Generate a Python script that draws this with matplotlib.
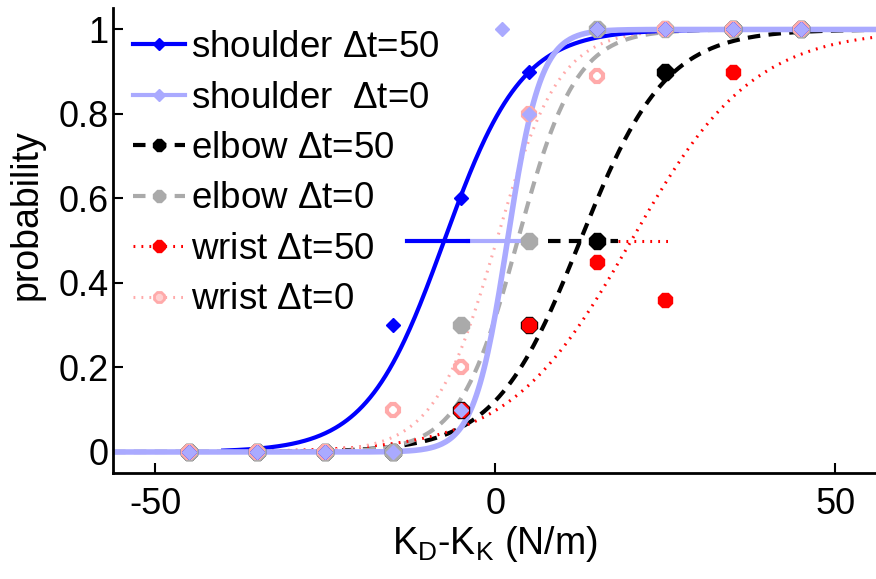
import numpy as np
import matplotlib
matplotlib.use("Agg")
import matplotlib.pyplot as plt

plt.rcParams['font.family'] = ['Liberation Sans', 'DejaVu Sans']
plt.rcParams['mathtext.fontset'] = 'custom'
plt.rcParams['mathtext.rm'] = 'Liberation Sans'
plt.rcParams['mathtext.it'] = 'Liberation Sans'

# ---- data ----
x_bins = [-45, -35, -25, -15, -5, 5, 15, 25, 35, 45]
x_shoulder0 = [-45, -35, -25, -15, -5, 1, 5, 15, 25, 35, 45]

p_shoulder50 = [0, 0, 0, 0.3, 0.6, 0.9, 1.0, 1.0, 1.0, 1.0]
p_shoulder0 = [0, 0, 0, 0, 0.1, 1.0, 0.8, 1.0, 1.0, 1.0, 1.0]
p_elbow50 = [0, 0, 0, 0, 0.1, 0.3, 0.5, 0.9, 1.0, 1.0]
p_elbow0 = [0, 0, 0, 0, 0.3, 0.5, 1.0, 1.0, 1.0, 1.0]
p_wrist50 = [0, 0, 0, 0, 0.1, 0.3, 0.45, 0.36, 0.9, 1.0]
p_wrist0 = [0, 0, 0, 0.1, 0.2, 0.8, 0.89, 1.0, 1.0, 1.0]

# logistic fit parameters (threshold, slope scale) per series
fit_mu = {'shoulder50': -7.5, 'shoulder0': 1.8, 'elbow50': 12.5,
          'elbow0': 3.3, 'wrist50': 20.0, 'wrist0': 0.2}
fit_s = {'shoulder50': 5.7, 'shoulder0': 2.45, 'elbow50': 6.3,
         'elbow0': 4.3, 'wrist50': 9.0, 'wrist0': 4.6}
fit_range = {'shoulder50': (-40, 35)}

# threshold intervals drawn at p = 0.5
ci_shoulder50 = (-13.0, -4.0)
ci_shoulder0 = (-4.0, 3.6)
ci_elbow50 = (7.8, 18.0)
ci_wrist50 = (18.0, 26.1)

labels = ['shoulder $\\Delta$t=50', 'shoulder  $\\Delta$t=0', 'elbow $\\Delta$t=50',
          'elbow $\\Delta$t=0', 'wrist $\\Delta$t=50', 'wrist $\\Delta$t=0']

BLUE = '#0000ff'
LBLUE = '#aaaaff'
BLACK = '#000000'
GRAY = '#aaaaaa'
RED = '#ff0000'
PINK = '#ffaaaa'

fig = plt.figure(figsize=(8.76, 5.79), dpi=100)
ax = fig.add_axes([0.129, 0.1836, 0.871, 0.802])
xlim = (-56.2, 56.0)

def curve(key):
    lo, hi = fit_range.get(key, xlim)
    xs = np.linspace(lo, hi, 400)
    return xs, 1.0 / (1.0 + np.exp(-(xs - fit_mu[key]) / fit_s[key]))

dash = (0, (3, 2))
dot = (0, (0.6, 2.0))

# curves
xs, ys = curve('elbow50'); ax.plot(xs, ys, color=BLACK, lw=3, ls=dash, zorder=2)
xs, ys = curve('elbow0'); ax.plot(xs, ys, color=GRAY, lw=3, ls=dash, zorder=2)
xs, ys = curve('wrist50'); ax.plot(xs, ys, color=RED, lw=2.2, ls=dot, zorder=2)
xs, ys = curve('wrist0'); ax.plot(xs, ys, color=PINK, lw=2.2, ls=dot, zorder=2)
xs, ys = curve('shoulder50'); ax.plot(xs, ys, color=BLUE, lw=3, zorder=2.2)
xs, ys = curve('shoulder0'); ax.plot(xs, ys, color=LBLUE, lw=4, zorder=2.3)

# threshold intervals
ax.plot(ci_shoulder0, [0.5, 0.5], color=LBLUE, lw=3, zorder=2.4)
ax.plot(ci_shoulder50, [0.5, 0.5], color=BLUE, lw=3, zorder=2.5)
ax.plot(ci_elbow50, [0.5, 0.5], color=BLACK, lw=3, ls=dash, zorder=2.4)
ax.plot(ci_wrist50, [0.5, 0.5], color=RED, lw=2.2, ls=dot, zorder=2.4)

# markers
ax.plot(x_bins, p_elbow50, ls='none', marker='8', ms=13, color=BLACK, zorder=3.0)
ax.plot(x_bins, p_wrist50, ls='none', marker='8', ms=11.5, color=RED, zorder=3.1)
ax.plot(x_bins, p_elbow0, ls='none', marker='8', ms=12, color=GRAY, zorder=3.2)
ax.plot(x_bins, p_wrist0, ls='none', marker='8', ms=9, mfc='white', mec=PINK, mew=3, zorder=3.3)
ax.plot(x_bins, p_shoulder50, ls='none', marker='D', ms=7, color=BLUE, zorder=3.4)
ax.plot(x_shoulder0, p_shoulder0, ls='none', marker='D', ms=7, color=LBLUE, zorder=3.5)

# legend proxies
handles = [
    plt.Line2D([], [], color=BLUE, lw=3, marker='D', ms=6),
    plt.Line2D([], [], color=LBLUE, lw=3, marker='D', ms=6),
    plt.Line2D([], [], color=BLACK, lw=3, ls=dash, marker='8', ms=9),
    plt.Line2D([], [], color=GRAY, lw=3, ls=dash, marker='8', ms=9),
    plt.Line2D([], [], color=RED, lw=2.2, ls=dot, marker='8', ms=9),
    plt.Line2D([], [], color=PINK, lw=2.2, ls=dot, marker='8', ms=8, mfc='#ffd0d0', mec=PINK, mew=2),
]
leg = ax.legend(handles, labels, loc='upper left', bbox_to_anchor=(0.152, 0.948),
                bbox_transform=fig.transFigure, frameon=False, fontsize=26.5,
                handlelength=1.42, handletextpad=0.15, labelspacing=0.42,
                borderpad=0, borderaxespad=0, numpoints=1)

ax.set_xlim(*xlim)
ax.set_ylim(-0.049, 1.05)
ax.set_xticks([-50, 0, 50])
ax.set_xticklabels(['-50', '0', '50'])
ax.set_yticks([0, 0.2, 0.4, 0.6, 0.8, 1.0])
ax.set_yticklabels(['0', '0.2', '0.4', '0.6', '0.8', '1'])
ax.tick_params(direction='in', length=7, width=1.5, labelsize=26)
ax.tick_params(axis='y', pad=3)
ax.tick_params(axis='x', pad=10)
for sp in ['top', 'right']:
    ax.spines[sp].set_visible(False)
for sp in ['left', 'bottom']:
    ax.spines[sp].set_linewidth(2)

ax.set_xlabel('K$_\\mathregular{D}$-K$_\\mathregular{K}$ (N/m)', fontsize=27, labelpad=2)
ax.set_ylabel('probability', fontsize=27)
ax.yaxis.set_label_coords(-0.09, 0.555)

fig.savefig('out.png', dpi=100)
